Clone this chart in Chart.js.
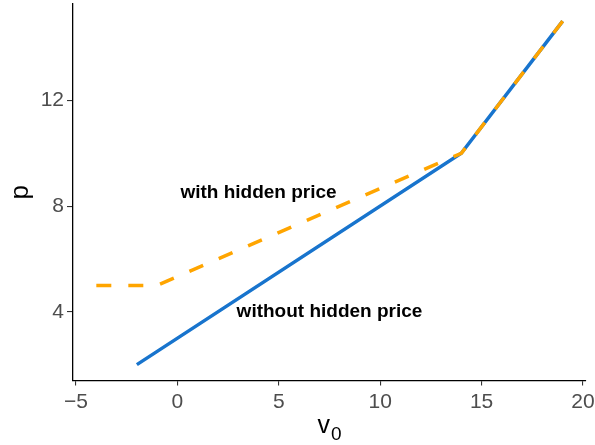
<!DOCTYPE html>
<html>
<head>
<meta charset="utf-8">
<script src="https://cdn.jsdelivr.net/npm/chart.js@4/dist/chart.umd.min.js"></script>
<style>
  html, body { margin: 0; padding: 0; background: #fff; }
  #wrap { width: 595px; height: 445px; }
</style>
</head>
<body>
<div id="wrap"><canvas id="chart" width="595" height="445"></canvas></div>
<script>
// data
const withoutX = [-2, 14, 19];
const withoutY = [2, 10, 15];
const withX = [-4, -1, 14, 19];
const withY = [5, 5, 10, 15];
const xTicks = [-5, 0, 5, 10, 15, 20];
const yTicks = [4, 8, 12];
const notes = [
  { text: "with hidden price", x: 4, y: 8.5 },
  { text: "without hidden price", x: 7.5, y: 4 }
];

const FONT = "'Liberation Sans', Arial, sans-serif";
const toPoints = (xs, ys) => xs.map((x, i) => ({ x: x, y: ys[i] }));

// labels inside the plot + axis titles
const textPlugin = {
  id: "textPlugin",
  afterDatasetsDraw(chart) {
    const ctx = chart.ctx;
    const xs = chart.scales.x, ys = chart.scales.y;
    ctx.save();
    ctx.fillStyle = "#000";
    ctx.font = "bold 19px " + FONT;
    ctx.textAlign = "center";
    ctx.textBaseline = "middle";
    notes.forEach(n => {
      ctx.fillText(n.text, xs.getPixelForValue(n.x), ys.getPixelForValue(n.y));
    });

    // x title: v with subscript 0
    const cx = (chart.chartArea.left + chart.chartArea.right) / 2;
    ctx.textAlign = "left";
    ctx.textBaseline = "alphabetic";
    ctx.font = "25px " + FONT;
    const vw = ctx.measureText("v").width;
    ctx.font = "19px " + FONT;
    const zw = ctx.measureText("0").width;
    const start = cx - (vw + zw + 1) / 2;
    ctx.font = "25px " + FONT;
    ctx.fillText("v", start, 433);
    ctx.font = "19px " + FONT;
    ctx.fillText("0", start + vw + 1, 439.5);

    // y title
    ctx.translate(28, (chart.chartArea.top + chart.chartArea.bottom) / 2);
    ctx.rotate(-Math.PI / 2);
    ctx.textAlign = "center";
    ctx.font = "26px " + FONT;
    ctx.fillText("p", 0, 0);
    ctx.restore();
  }
};

new Chart(document.getElementById("chart"), {
  type: "scatter",
  data: {
    datasets: [
      {
        label: "with hidden price",
        data: toPoints(withX, withY),
        showLine: true,
        borderColor: "#FFA500",
        borderWidth: 3.5,
        borderDash: [15, 17],
        borderCapStyle: "butt",
        pointRadius: 0,
        fill: false,
        order: 1
      },
      {
        label: "without hidden price",
        data: toPoints(withoutX, withoutY),
        showLine: true,
        borderColor: "#1874CD",
        borderWidth: 3.5,
        pointRadius: 0,
        fill: false,
        order: 2
      }
    ]
  },
  options: {
    responsive: false,
    animation: false,
    layout: { padding: { top: 4, right: 9, left: 0, bottom: 0 } },
    plugins: { legend: { display: false }, tooltip: { enabled: false } },
    scales: {
      x: {
        type: "linear",
        min: -5.15,
        max: 20.15,
        afterBuildTicks: axis => { axis.ticks = xTicks.map(v => ({ value: v })); },
        afterFit: axis => {
          axis.height = 64.5;
          axis.paddingLeft = 0;
          axis.paddingRight = 0;
        },
        border: { display: true, color: "#000", width: 1.3 },
        grid: { drawOnChartArea: false, drawTicks: true, tickLength: 5, color: "#333", lineWidth: 1.1 },
        ticks: {
          color: "#4D4D4D",
          padding: 4,
          font: { size: 21, family: FONT },
          callback: v => String(v).replace("-", "\u2212")
        }
      },
      y: {
        type: "linear",
        min: 1.4,
        max: 15.65,
        afterBuildTicks: axis => { axis.ticks = yTicks.map(v => ({ value: v })); },
        afterFit: axis => {
          axis.width = 73;
          axis.paddingTop = 0;
          axis.paddingBottom = 0;
        },
        border: { display: true, color: "#000", width: 1.3 },
        grid: { drawOnChartArea: false, drawTicks: true, tickLength: 6, color: "#333", lineWidth: 1.1 },
        ticks: {
          color: "#4D4D4D",
          padding: 3,
          font: { size: 21, family: FONT }
        }
      }
    }
  },
  plugins: [textPlugin]
});
</script>
</body>
</html>
